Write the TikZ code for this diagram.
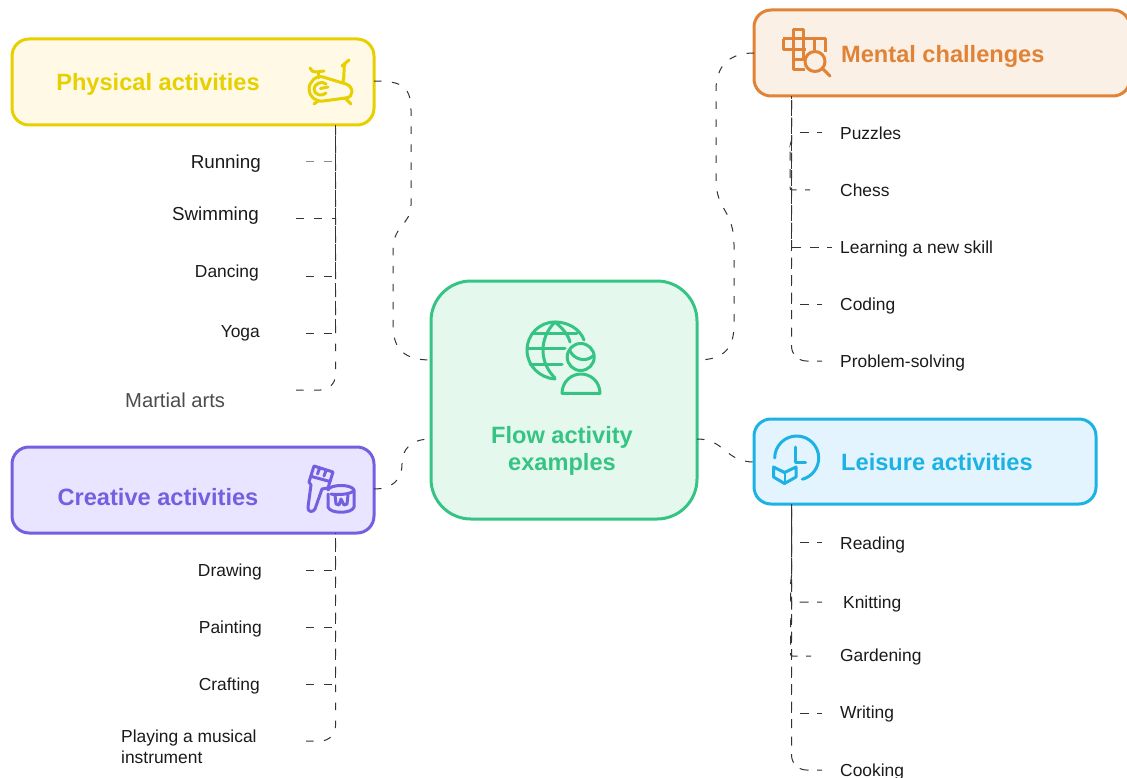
\documentclass[tikz,border=0pt]{standalone}
\usepackage{fontspec}
\setmainfont{Liberation Sans}
\definecolor{yel}{HTML}{E6D000}\definecolor{yelf}{HTML}{FFF9E6}
\definecolor{pur}{HTML}{7360E0}\definecolor{purf}{HTML}{E9E4FF}
\definecolor{grn}{HTML}{36C484}\definecolor{grnf}{HTML}{E4F8EE}
\definecolor{org}{HTML}{E08336}\definecolor{orgf}{HTML}{FAF0E6}
\definecolor{blu}{HTML}{1CB2E4}\definecolor{bluf}{HTML}{E4F4FF}
\definecolor{ink}{HTML}{1A1A1A}\definecolor{wire}{HTML}{333333}
\tikzset{
  x=1pt,y=-1pt,
  boxnode/.style={draw=#1,line width=3pt,rounded corners=17pt,inner sep=0pt},
  titlenode/.style={font=\bfseries\fontsize{23.6}{27}\selectfont,text=#1,inner sep=0pt,align=center},
  oneline/.style={text height=0.72em,text depth=0.21em,yshift=-4pt},
  leafnode/.style={font=\fontsize{17.4}{21}\selectfont,text=ink,inner sep=0pt,oneline},
  bigleaf/.style={font=\fontsize{18.8}{22}\selectfont,text=ink,inner sep=0pt,oneline},
  wirepath/.style={draw=wire,line width=1pt,dash pattern=on 7.5pt off 10.5pt},
  rightwire/.style={draw=wire,line width=1pt,dash pattern=on 9pt off 8.5pt,dash phase=4pt},
  lastwire/.style={wirepath,rounded corners=15pt},
  lastright/.style={rightwire,rounded corners=15pt},
  kinkwire/.style={rightwire,rounded corners=2pt},
  iconpath/.style={draw=#1,line width=3pt,line cap=round,line join=round},
}
\begin{document}
\begin{tikzpicture}
\useasboundingbox (0,0) rectangle (1127,778);
\clip (0,0) rectangle (1127,778);
% boxes
\node[boxnode=yel,fill=yelf,minimum width=362pt,minimum height=86pt] (phys) at (193,82) {};
\node[boxnode=pur,fill=purf,minimum width=362pt,minimum height=86pt] (crea) at (193,490) {};
\node[boxnode=grn,fill=grnf,rounded corners=40pt,minimum width=266pt,minimum height=238pt] (flow) at (564,400) {};
\node[boxnode=org,fill=orgf,minimum width=376pt,minimum height=86pt] (ment) at (942,53) {};
\node[boxnode=blu,fill=bluf,minimum width=342pt,minimum height=85pt] (leis) at (925,461.5) {};
% titles
\node[titlenode=yel,oneline] (physT) at (158,84) {Physical activities};
\node[titlenode=pur,oneline] (creaT) at (158,499) {Creative activities};
\node[titlenode=grn] (flowT) at (562,450.5) {Flow activity\\examples};
\node[titlenode=org,anchor=west,oneline] (mentT) at (841,56) {Mental challenges};
\node[titlenode=blu,anchor=west,oneline] (leisT) at (841,464) {Leisure activities};
% leaves
\node[bigleaf,anchor=east] (running) at (261,162) {Running};
\node[bigleaf,anchor=east] (swimming) at (259,214) {Swimming};
\node[leafnode,anchor=east] (dancing) at (259,271) {Dancing};
\node[leafnode,anchor=east] (yoga) at (260,331) {Yoga};
\node[inner sep=0pt,anchor=west,font=\fontsize{20.2}{24}\selectfont,text=black!70,oneline] (martial) at (125,401) {Martial arts};
\node[leafnode,anchor=east] (drawing) at (262,570) {Drawing};
\node[leafnode,anchor=east] (painting) at (262,627) {Painting};
\node[leafnode,anchor=east] (crafting) at (260,684) {Crafting};
\node[font=\fontsize{17.4}{20.5}\selectfont,text=ink,inner sep=0pt,anchor=west,align=left] (playing) at (121,747) {Playing a musical\\instrument};
\node[leafnode,anchor=west] (puzzles) at (840,133) {Puzzles};
\node[leafnode,anchor=west] (chess) at (840,190) {Chess};
\node[leafnode,anchor=west] (learning) at (840,247) {Learning a new skill};
\node[leafnode,anchor=west] (coding) at (840,304) {Coding};
\node[leafnode,anchor=west] (problem) at (840,361) {Problem-solving};
\node[leafnode,anchor=west] (reading) at (840,543) {Reading};
\node[leafnode,anchor=west] (knitting) at (843,602) {Knitting};
\node[leafnode,anchor=west] (gardening) at (840,655) {Gardening};
\node[leafnode,anchor=west] (writing) at (840,712) {Writing};
\node[leafnode,anchor=west] (cooking) at (840,770) {Cooking};
% connector ends
\coordinate (physE) at (374,81);
\coordinate (physB) at (335.5,125);
\coordinate (creaE) at (374,489);
\coordinate (creaB) at (335.5,533);
\coordinate (mentW) at (754,53);
\coordinate (mentB) at (791.5,96);
\coordinate (leisW) at (754,462);
\coordinate (leisB) at (791.5,504);
\coordinate (flowWa) at (431,360);
\coordinate (flowWb) at (431,439);
\coordinate (flowEa) at (697,360);
\coordinate (flowEb) at (697,439);
\coordinate (runningE) at (306,162);
\coordinate (swimmingE) at (296,219);
\coordinate (dancingE) at (306,276);
\coordinate (yogaE) at (306,333);
\coordinate (martialE) at (296,390);
\coordinate (drawingE) at (306,570);
\coordinate (paintingE) at (306,627);
\coordinate (craftingE) at (306,684);
\coordinate (playingE) at (306,741);
\coordinate (puzzlesE) at (822,133);
\coordinate (chessE) at (810,190);
\coordinate (learningE) at (832,247);
\coordinate (codingE) at (822,304);
\coordinate (problemE) at (822,361);
\coordinate (readingE) at (822,542);
\coordinate (knittingE) at (822,602);
\coordinate (gardeningE) at (811,656);
\coordinate (writingE) at (822,713);
\coordinate (cookingE) at (822,770);
% main connectors
\draw[wirepath] (physE) .. controls (400,81) and (411,85) .. (411,110) -- (411,205) .. controls (411,225) and (393,225) .. (393,250) -- (393,325) .. controls (393,350) and (405,360) .. (flowWa);
\draw[wirepath] (mentW) .. controls (730,53) and (716,65) .. (716,90) -- (716,180) .. controls (716,210) and (734,210) .. (734,245) -- (734,325) .. controls (734,350) and (722,360) .. (flowEa);
\draw[wirepath] (flowEb) .. controls (725,439) and (725,462) .. (leisW);
\draw[wirepath] (creaE) .. controls (392,489) and (402,480) .. (402,464) .. controls (402,450) and (410,439) .. (flowWb);
% leaf connectors
\draw[wirepath,draw=black!45] (runningE) -- (runningE -| physB) -- (physB);
\draw[wirepath] (swimmingE) -- (swimmingE -| physB) -- (physB);
\draw[wirepath] (dancingE) -- (dancingE -| physB) -- (physB);
\draw[wirepath] (yogaE) -- (yogaE -| physB) -- (physB);
\draw[lastwire] (martialE) -- (martialE -| physB) -- (physB);
\draw[wirepath] (drawingE) -- (drawingE -| creaB) -- (creaB);
\draw[wirepath] (paintingE) -- (paintingE -| creaB) -- (creaB);
\draw[wirepath] (craftingE) -- (craftingE -| creaB) -- (creaB);
\draw[lastwire] (playingE) -- (playingE -| creaB) -- (creaB);
\draw[rightwire] (puzzlesE) -- (puzzlesE -| mentB) -- (mentB);
\draw[kinkwire] (chessE) -- (790,190) -- (790,145) -- (791.5,142) -- (mentB);
\draw[rightwire] (learningE) -- (learningE -| mentB) -- (mentB);
\draw[rightwire] (codingE) -- (codingE -| mentB) -- (mentB);
\draw[lastright] (problemE) -- (problemE -| mentB) -- (mentB);
\draw[rightwire] (readingE) -- (readingE -| leisB) -- (leisB);
\draw[kinkwire] (knittingE) -- (790.5,602) -- (790.5,582) -- (791.5,578) -- (leisB);
\draw[kinkwire] (gardeningE) -- (790.5,656) -- (790.5,620) -- (791.5,616) -- (leisB);
\draw[rightwire] (writingE) -- (writingE -| leisB) -- (leisB);
\draw[lastright] (cookingE) -- (cookingE -| leisB) -- (leisB);
% bike icon
\begin{scope}[iconpath=yel]
\draw (323,77) -- (346,84) .. controls (354,87) and (354,97) .. (346,98) -- (323,101) .. controls (315,102) and (309,96) .. (309,89) .. controls (309,82) and (316,75) .. (323,77);
\draw (326,84) .. controls (322,80) and (314,84) .. (314,89) .. controls (314,95) and (322,97) .. (326,93);
\draw (320.5,88.5) -- (328,87);
\draw (310,68) .. controls (311,71) and (313,72) .. (316,72) -- (324,71);
\draw (318,72) -- (318,78);
\draw (349,60) -- (342,66);
\draw (345,63) .. controls (343,68) and (345,75) .. (343,82);
\draw (318,101) -- (314,104);
\draw (345,98) -- (351,104);
\end{scope}
% crossword icon
\begin{scope}[iconpath=org,line cap=butt]
\draw (793,39) -- (793,29.5) -- (803,29.5) -- (803,50);
\draw (783,39) -- (825,39) -- (825,52);
\draw (783,39) -- (783,50) -- (806,50);
\draw (793,39) -- (793,70) -- (805,70);
\draw (793,60) -- (803,60) -- (803,50);
\draw (814,39) -- (814,50);
\draw (815,61.5) circle[radius=10];
\draw[line cap=round] (823,69) -- (830,76);
\end{scope}
% paint icon
\begin{scope}[iconpath=pur]
\draw (314,466) -- (333,472) -- (328,488) -- (322,489) -- (315,509) .. controls (313,513) and (307,512) .. (308,507) -- (311,485) -- (309,482) -- cycle;
\draw (311.5,476.5) -- (330,481.5);
\draw (319.5,468.5) -- (317.5,474);
\draw (326,470.5) -- (324,476);
\draw (328,490) .. controls (330,484) and (352,484) .. (354,490) .. controls (352,495) and (335,495) .. (331,494);
\draw (328,494) -- (328,507) .. controls (330,514) and (352,514) .. (354,507) -- (354,490);
\draw (335,495) -- (336,504) -- (339,505) -- (341,499) -- (344,505) -- (347,504) -- (348,495);
\end{scope}
% clock and book icon
\begin{scope}[iconpath=blu]
\draw (774.7,458) arc[start angle=180,end angle=435,radius=22];
\draw (795.7,447) -- (795.7,462) -- (805.7,462);
\draw (773.5,467) -- (784.5,472.5) -- (796,467) -- (796,477) -- (784.5,483.5) -- (773.5,477) -- cycle;
\draw[line width=2pt] (784.5,472.5) -- (784.5,482);
\end{scope}
% globe and user icon
\begin{scope}[iconpath=grn]
\draw (584,340) .. controls (580,329) and (568,322) .. (555,322) .. controls (539,322) and (527,335) .. (527,350) .. controls (527,366) and (540,378) .. (555,379);
\draw (555,322) .. controls (547,330) and (543,340) .. (543,350) .. controls (543,362) and (548,371) .. (555,378);
\draw (555,322) .. controls (562,328) and (568,334) .. (570,342);
\draw (532,333) -- (577,333);
\draw (527,348) -- (565,348);
\draw (530,364) -- (562,364);
\draw (580.7,357) circle[radius=13.5];
\draw (570,351) .. controls (574,359) and (585,363) .. (593,356);
\draw (562,393.3) -- (600,393.3) .. controls (600,382) and (591,374) .. (581,374) .. controls (571,374) and (562,382) .. cycle;
\end{scope}
\end{tikzpicture}
\end{document}
